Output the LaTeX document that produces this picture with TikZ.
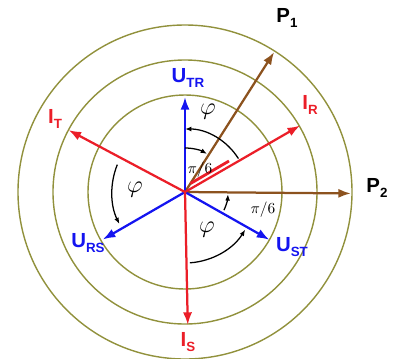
\documentclass[tikz,border=0pt]{standalone}
\usepackage{fontspec}
\setsansfont{Liberation Sans}
\usetikzlibrary{positioning, arrows.meta}
\definecolor{ringcol}{RGB}{145,145,60}
\definecolor{vecblue}{RGB}{20,20,240}
\definecolor{vecred}{RGB}{235,30,40}
\definecolor{vecbrown}{RGB}{140,82,30}
\newcommand{\vsub}[2]{#1\raisebox{-3pt}{\fontsize{9.5}{9.5}\selectfont #2}}

\begin{document}
\begin{tikzpicture}[
x=0.025cm, y=0.025cm,
ring/.style={draw=ringcol, line width=1pt},
vec/.style={-{Latex[length=9pt, width=6.5pt]}, line width=1.6pt},
angarc/.style={-{Latex[length=4.5pt, width=3.5pt]}, line width=0.9pt},
lab/.style={font=\sffamily\bfseries\fontsize{14.5}{14.5}\selectfont, inner sep=0pt},
ang/.style={font=\fontsize{16}{16}\selectfont, inner sep=0pt},
angs/.style={font=\fontsize{11}{11}\selectfont, inner sep=0pt}
]
\useasboundingbox (-185,-166) rectangle (215,192);

\coordinate (vec_o) at (0,0);
\foreach \r in {97,132,167} \draw[ring] (vec_o) circle (\r);

\coordinate (vec_utr) at (90:95);
\coordinate (vec_ust) at (-29.5:97);
\coordinate (vec_urs) at (210:95);
\coordinate (vec_ir) at (30:133);
\coordinate (vec_it) at (152:132);
\coordinate (vec_is) at (-88.8:133);
\coordinate (vec_p1) at (57.5:166);
\coordinate (vec_p2) at (-0.5:166);

% brown power vectors
\draw[vec, vecbrown] (vec_o) -- (vec_p1);
\draw[vec, vecbrown] (vec_o) -- (vec_p2);
% voltages
\draw[vec, vecblue] (vec_o) -- (vec_utr);
\draw[vec, vecblue] (vec_o) -- (vec_ust);
\draw[vec, vecblue] (vec_o) -- (vec_urs);
% currents
\draw[vec, vecred] (vec_o) -- (vec_ir);
\draw[vec, vecred] (vec_o) -- (vec_it);
\draw[vec, vecred] (vec_o) -- (vec_is);

\coordinate (mark_a) at (5.5,8.5);
\coordinate (mark_b) at (44,31);
\draw[vecred, line width=2pt] (mark_a) -- (mark_b);

% angle arcs
\draw[angarc] (32:63) arc[start angle=32, end angle=90, radius=63];
\draw[angarc] (90:44) arc[start angle=90, end angle=60, radius=44];
\draw[angarc] (158:73) arc[start angle=158, end angle=206, radius=73];
\draw[angarc] (-86:71) arc[start angle=-86, end angle=-32, radius=71];
\draw[angarc] (-25:43) arc[start angle=-25, end angle=-3, radius=43];

\node[ang] (phi_top) at (23,80) {$\varphi$};
\node[ang] (phi_left) at (-50,2) {$\varphi$};
\node[ang] (phi_bot) at (22,-38) {$\varphi$};
\node[angs] (pi_top) at (15,22) {$\pi/6$};
\node[angs] (pi_right) at (78,-18) {$\pi/6$};

\node[lab, vecblue] (lab_utr) at (3,114) {\vsub{U}{TR}};
\node[lab, vecblue] (lab_ust) at (107,-55) {\vsub{U}{ST}};
\node[lab, vecblue] (lab_urs) at (-97,-51) {\vsub{U}{RS}};
\node[lab, vecred] (lab_ir) at (125,87) {\vsub{I}{R}};
\node[lab, vecred] (lab_it) at (-130,73) {\vsub{I}{T}};
\node[lab, vecred] (lab_is) at (3,-150) {\vsub{I}{S}};
\node[lab] (lab_p1) at (102,174) {\vsub{P}{1}};
\node[lab] (lab_p2) at (192,4) {\vsub{P}{2}};

\end{tikzpicture}
\end{document}
